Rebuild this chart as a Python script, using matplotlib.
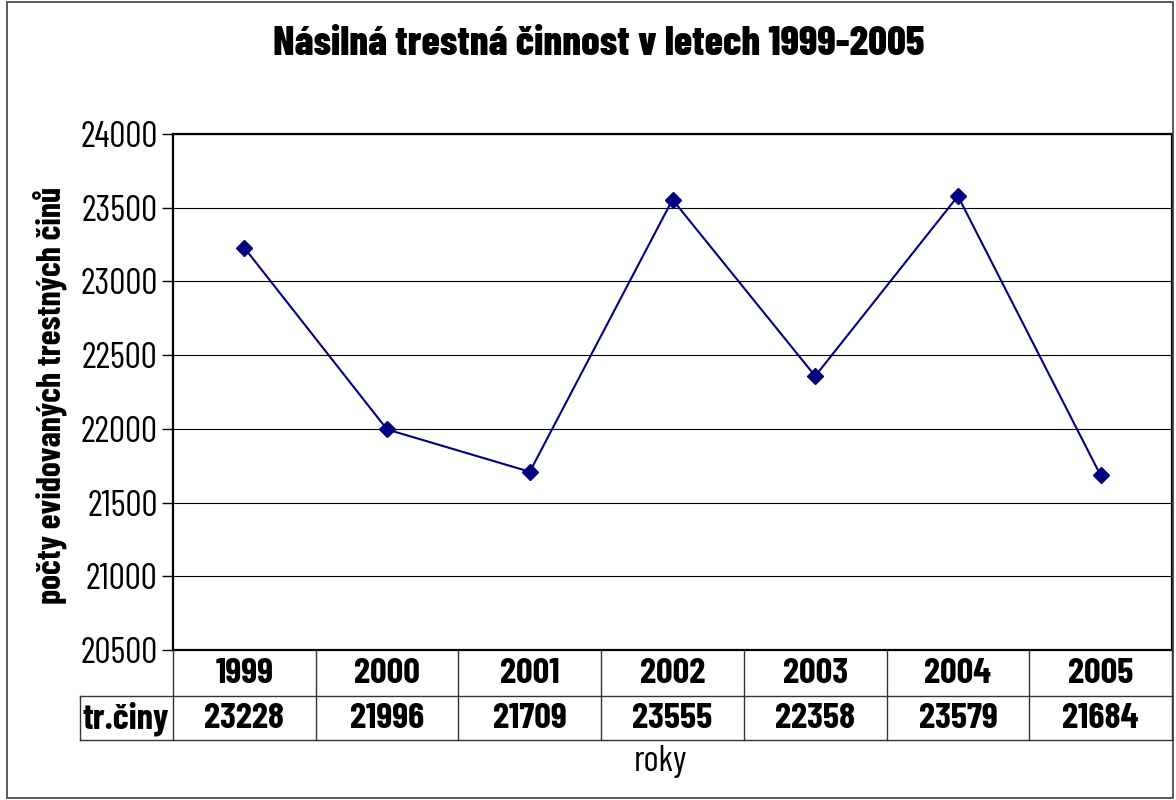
import matplotlib
matplotlib.use("Agg")
import matplotlib.pyplot as plt
from matplotlib.lines import Line2D
from matplotlib.patches import Rectangle

years = ["1999", "2000", "2001", "2002", "2003", "2004", "2005"]
counts = [23228, 21996, 21709, 23555, 22358, 23579, 21684]
yticks = [20500, 21000, 21500, 22000, 22500, 23000, 23500, 24000]

title = "Násilná trestná činnost v letech 1999-2005"
ylabel = "počty evidovaných trestných činů"
xlabel = "roky"
row_label = "tr.činy"

FONT = ["Barlow Condensed", "DejaVu Sans"]
NAVY = "#000080"
W, H = 1176, 800


def fx(px):
    return px / W


def fy(py):
    return 1 - py / H


fig = plt.figure(figsize=(W / 100, H / 100), dpi=100)
renderer = fig.canvas.get_renderer()


def fit_size(s, width_px, weight="normal"):
    # font size whose rendered width matches the reference width
    t = fig.text(0, 0, s, family=FONT, fontsize=10, fontweight=weight)
    w = t.get_window_extent(renderer).width
    t.remove()
    return 10 * width_px / w


# plot area in pixel coords of the reference
left, right, top, bottom = 173, 1172, 134, 650
ax = fig.add_axes([fx(left), fy(bottom), fx(right - left), (bottom - top) / H])

x = list(range(len(years)))
ax.plot(x, counts, color=NAVY, linewidth=1.5, marker="D", markersize=8,
        markerfacecolor=NAVY, markeredgecolor=NAVY, zorder=3)
ax.set_xlim(-0.5, len(years) - 0.5)
ax.set_ylim(yticks[0], yticks[-1])
ax.set_yticks(yticks)
tick_fs = fit_size("24000", 78)
ax.set_yticklabels([str(v) for v in yticks], family=FONT, fontsize=tick_fs)
ax.set_xticks([])
ax.tick_params(axis="y", direction="out", length=8, width=1, pad=3)
ax.yaxis.grid(True, color="#000000", linewidth=0.8)
for s in ["left", "top", "right", "bottom"]:
    ax.spines[s].set_color("black")
    ax.spines[s].set_linewidth(1.6)

# data table under the plot
row1, row2, row3 = 650, 696, 740
lab_left = 80
col_w = (right - left) / len(years)
lines = [
    ((lab_left, right), (row2, row2)),
    ((lab_left, right), (row3, row3)),
    ((lab_left, lab_left), (row2, row3)),
]
for i in range(len(years) + 1):
    xc = left + i * col_w
    lines.append(((xc, xc), (row1, row3)))
for xs, ys in lines:
    fig.add_artist(Line2D([fx(xs[0]), fx(xs[1])], [fy(ys[0]), fy(ys[1])],
                          color="#333333", linewidth=1.0, transform=fig.transFigure))

cell_fs = fit_size("1999", 58, "bold")
for i, (yr, c) in enumerate(zip(years, counts)):
    xc = fx(left + (i + 0.5) * col_w)
    fig.text(xc, fy(674), yr, ha="center", va="center", family=FONT,
             fontsize=cell_fs, fontweight="bold")
    fig.text(xc, fy(719), str(c), ha="center", va="center", family=FONT,
             fontsize=cell_fs, fontweight="bold")
fig.text(fx(126), fy(719), row_label, ha="center", va="center",
         family=FONT, fontsize=cell_fs, fontweight="bold")

# titles
fig.text(fx(599), fy(44), title, ha="center", va="center", family=FONT,
         fontsize=fit_size(title, 650, "heavy"), fontweight="heavy")
fig.text(fx(50), fy(395), ylabel, ha="center", va="center", rotation=90,
         family=FONT, fontsize=fit_size(ylabel, 415, "bold"), fontweight="bold")
fig.text(fx(660), fy(762), xlabel, ha="center", va="center", family=FONT,
         fontsize=fit_size(xlabel, 54))

# outer chart border
fig.add_artist(Rectangle((fx(7), fy(798)), fx(1166), 796 / H, fill=False,
                         edgecolor="#404040", linewidth=1.2,
                         transform=fig.transFigure))

fig.savefig("out.png", dpi=100)
